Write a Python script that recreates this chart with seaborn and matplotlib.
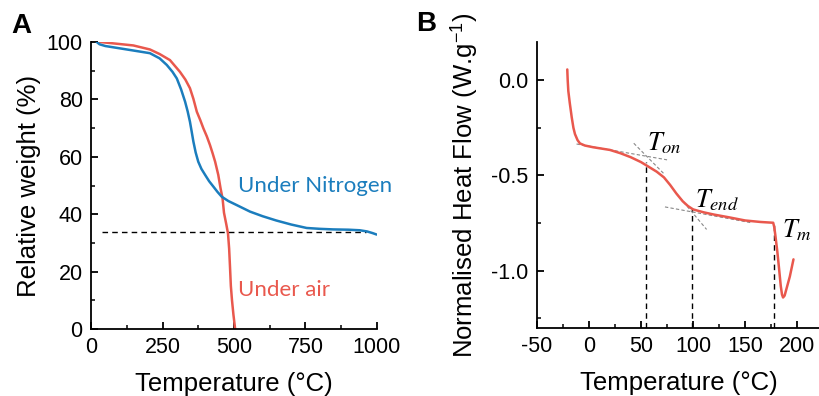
import numpy as np
import pandas as pd
import matplotlib
matplotlib.use("Agg")
import matplotlib.pyplot as plt
import seaborn as sns
from matplotlib.ticker import MultipleLocator

# ---------------- data ----------------
# Panel A: TGA
n2_temp = [20, 30, 50, 100, 150, 206, 240, 265, 285, 300, 315, 329, 338, 346, 352, 358,
           366, 375, 386, 399, 413, 428, 442, 457, 480, 509, 556, 600, 648, 700, 754,
           800, 847, 900, 940, 965, 985, 999]
n2_weight = [100, 99.2, 98.6, 97.8, 97.0, 96.1, 94.3, 92.0, 89.6, 87.3, 83.5, 79.2, 75.8,
             72.2, 68.8, 65.3, 61.5, 58.3, 55.8, 53.7, 51.5, 49.6, 47.8, 46.1, 44.6, 43.2,
             40.9, 39.3, 37.8, 36.4, 35.2, 34.9, 34.7, 34.6, 34.4, 34.0, 33.4, 32.9]
air_temp = [31, 80, 148, 206, 240, 276, 311, 330, 346, 358, 370, 382, 393, 405, 416, 425,
            434, 445, 453, 460, 465, 473, 479, 483, 486, 489, 493, 498, 504]
air_weight = [100, 99.5, 98.8, 97.4, 95.8, 93.7, 89.6, 86.9, 83.9, 80.2, 75.7, 72.8, 69.9,
              67.1, 64.1, 61.3, 58.3, 53.7, 49.0, 45.5, 40.5, 36.5, 33.3, 28.0, 21.7, 15.0,
              10.0, 5.0, 0.0]
residue_level = 33.7
residue_span = [40, 960]
labels_a = ["Under Nitrogen", "Under air"]

# Panel B: DSC
dsc_temp = [-20.9, -20.5, -19.9, -18.5, -16.6, -15, -13.5, -11, -8.7, -4, 4, 20, 30, 40,
            50, 56, 65, 72, 78, 84, 90, 95, 100, 110, 120, 135, 150, 165, 177, 178, 179,
            181, 182.5, 184.3, 185.5, 186.5, 188, 190, 193, 196.5]
dsc_flow = [0.056, 0.0, -0.057, -0.12, -0.196, -0.25, -0.283, -0.315, -0.332, -0.343,
            -0.352, -0.366, -0.383, -0.404, -0.43, -0.45, -0.48, -0.51, -0.55, -0.595,
            -0.635, -0.66, -0.678, -0.693, -0.705, -0.72, -0.736, -0.744, -0.748, -0.77,
            -0.81, -0.9, -0.98, -1.08, -1.125, -1.14, -1.13, -1.09, -1.03, -0.94]
mark_temp = [54.5, 98.5, 177.5]
mark_flow = [-0.43, -0.672, -0.748]
mark_labels = [r"$T_{on}$", r"$T_{end}$", r"$T_{m}$"]
label_x = [55.5, 102, 185]
label_y = [-0.333, -0.63, -0.786]
tangent_x0 = [-12, 43, 73, 84]
tangent_y0 = [-0.335, -0.331, -0.665, -0.595]
tangent_x1 = [75, 72, 156, 113]
tangent_y1 = [-0.418, -0.491, -0.748, -0.783]

# ---------------- style ----------------
sns.set_style("ticks")
plt.rcParams["font.family"] = ["Liberation Sans", "DejaVu Sans"]
plt.rcParams["mathtext.fontset"] = "stix"
plt.rcParams["text.color"] = "black"
plt.rcParams["axes.labelcolor"] = "black"

blue = "#1b7dbd"
red = "#e9584d"

fig = plt.figure(figsize=(8.2, 3.96), dpi=100)
axA = fig.add_axes([91 / 820, 67 / 396, 286 / 820, 287 / 396])
axB = fig.add_axes([537 / 820, 68 / 396, 283 / 820, 286 / 396])

dfA1 = pd.DataFrame({"T": n2_temp, "W": n2_weight})
dfA2 = pd.DataFrame({"T": air_temp, "W": air_weight})
sns.lineplot(data=dfA2, x="T", y="W", ax=axA, color=red, lw=1.8, sort=False)
sns.lineplot(data=dfA1, x="T", y="W", ax=axA, color=blue, lw=1.8, sort=False)
axA.hlines(residue_level, residue_span[0], residue_span[1], colors="k",
           linestyles=(0, (4, 3)), lw=1.0, zorder=1)
axA.text(514, 49.8, labels_a[0], color=blue, fontsize=16, family=["Lato", "DejaVu Sans"],
         va="center", ha="left")
axA.text(514, 13.6, labels_a[1], color=red, fontsize=16, family=["Lato", "DejaVu Sans"],
         va="center", ha="left")
axA.set_xlim(0, 1000)
axA.set_ylim(0, 100)
axA.xaxis.set_major_locator(MultipleLocator(250))
axA.xaxis.set_minor_locator(MultipleLocator(125))
axA.yaxis.set_major_locator(MultipleLocator(20))
axA.yaxis.set_minor_locator(MultipleLocator(10))
axA.set_xlabel("Temperature (°C)", fontsize=18.5, labelpad=10)
axA.set_ylabel("Relative weight (%)", fontsize=18.5, labelpad=4)

dfB = pd.DataFrame({"T": dsc_temp, "H": dsc_flow})
sns.lineplot(data=dfB, x="T", y="H", ax=axB, color=red, lw=1.8, sort=False, zorder=3)
for x0, y0, x1, y1 in zip(tangent_x0, tangent_y0, tangent_x1, tangent_y1):
    axB.plot([x0, x1], [y0, y1], color="#888888", lw=0.8, ls=(0, (3, 2)), zorder=2)
axB.vlines(mark_temp, -1.3, mark_flow, colors="k", linestyles=(0, (4, 3)), lw=1.0, zorder=1)
for lx, ly, lab in zip(label_x, label_y, mark_labels):
    axB.text(lx, ly, lab, fontsize=19, va="center", ha="left")
axB.set_xlim(-50, 222)
axB.set_ylim(-1.3, 0.2)
axB.xaxis.set_major_locator(MultipleLocator(50))
axB.xaxis.set_minor_locator(MultipleLocator(25))
axB.yaxis.set_minor_locator(MultipleLocator(0.25))
axB.set_yticks([-1.0, -0.5, 0.0])
axB.set_yticklabels(["-1.0", "-0.5", "0.0"])
axB.set_xticks([-50, 0, 50, 100, 150, 200])
axB.set_xticklabels(["-50", "0", "50", "100", "150", "200"])
axB.set_xlabel("Temperature (°C)", fontsize=18.5, labelpad=10)
axB.set_ylabel(r"Normalised Heat Flow (W.g$^{\mathregular{-1}}$)", fontsize=18.5, labelpad=8)

for ax in (axA, axB):
    sns.despine(ax=ax)
    for s in ("left", "bottom"):
        ax.spines[s].set_linewidth(1.3)
        ax.spines[s].set_color("k")
    ax.tick_params(which="major", direction="in", length=5, width=1.3, labelsize=15.5,
                   pad=6, colors="k")
    ax.tick_params(which="minor", direction="in", length=3, width=1.1, colors="k")
    ax.set_facecolor("white")

fig.text(11 / 820, 1 - 26 / 396, "A", fontsize=20, fontweight="bold", color="black",
         va="center", ha="left")
fig.text(416 / 820, 1 - 24 / 396, "B", fontsize=20, fontweight="bold", color="black",
         va="center", ha="left")

fig.savefig("out.png", dpi=100, facecolor="white")
